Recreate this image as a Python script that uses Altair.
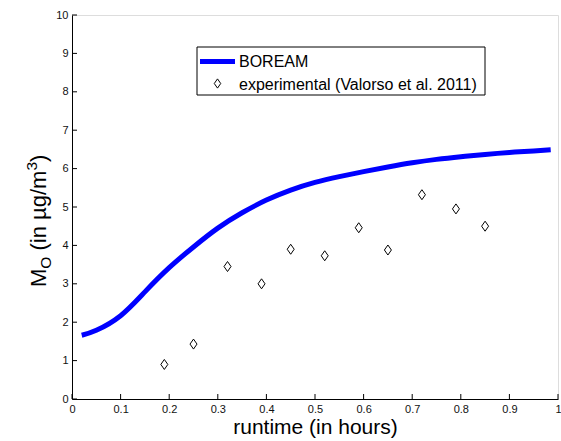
import altair as alt
import pandas as pd

# ---------------- data ----------------
model_t = [0.02, 0.05, 0.10, 0.15, 0.20, 0.25, 0.30, 0.35, 0.40, 0.45, 0.50,
           0.55, 0.60, 0.65, 0.70, 0.75, 0.80, 0.85, 0.90, 0.95, 0.985]
model_mo = [1.66, 1.79, 2.17, 2.79, 3.42, 3.96, 4.45, 4.85, 5.18, 5.44, 5.64,
            5.79, 5.92, 6.04, 6.15, 6.24, 6.31, 6.37, 6.42, 6.46, 6.49]

exp_t = [0.19, 0.25, 0.32, 0.39, 0.45, 0.52, 0.59, 0.65, 0.72, 0.79, 0.85]
exp_mo = [0.90, 1.43, 3.45, 3.00, 3.90, 3.73, 4.46, 3.88, 5.32, 4.95, 4.50]

x_ticks = [0, 0.1, 0.2, 0.3, 0.4, 0.5, 0.6, 0.7, 0.8, 0.9, 1]
y_ticks = [0, 1, 2, 3, 4, 5, 6, 7, 8, 9, 10]

legend_labels = ["BOREAM", "experimental (Valorso et al. 2011)"]
x_title = "runtime (in hours)"
y_title_parts = ["M", "O", "(in \u00b5g/m", "3", ")"]

# ---------------- style ----------------
W, H = 486, 384
FONT = "Liberation Sans"
BLUE = "#0000ff"
DIAMOND = "M0,-1L0.7,0L0,1L-0.7,0Z"

xscale = alt.Scale(domain=[0, 1], nice=False, zero=False)
yscale = alt.Scale(domain=[0, 10], nice=False, zero=False)

x_axis = alt.Axis(values=x_ticks, format="~g", title=x_title, titleFontSize=21,
                  titlePadding=2, labelFlush=False, labelOverlap=False)
y_axis = alt.Axis(values=y_ticks, format="d", title=None,
                  labelFlush=False, labelOverlap=False)

curve_df = pd.DataFrame({"t": model_t, "mo": model_mo})
exp_df = pd.DataFrame({"t": exp_t, "mo": exp_mo})

curve = alt.Chart(curve_df).mark_line(
    color=BLUE, strokeWidth=5, interpolate="natural", strokeCap="butt"
).encode(
    x=alt.X("t:Q", scale=xscale, axis=x_axis),
    y=alt.Y("mo:Q", scale=yscale, axis=y_axis),
)

points = alt.Chart(exp_df).mark_point(
    shape=DIAMOND, size=100, filled=False, color="black", strokeWidth=1, opacity=1
).encode(
    x=alt.X("t:Q", scale=xscale, axis=x_axis),
    y=alt.Y("mo:Q", scale=yscale, axis=y_axis),
)

# inward tick marks (MATLAB style)
xt = alt.Chart(pd.DataFrame({"v": x_ticks})).mark_rule(color="black", strokeWidth=1).encode(
    x=alt.X("v:Q", scale=xscale, axis=x_axis), y=alt.value(H), y2=alt.value(H - 5))
yt = alt.Chart(pd.DataFrame({"v": y_ticks})).mark_rule(color="black", strokeWidth=1).encode(
    y=alt.Y("v:Q", scale=yscale, axis=y_axis), x=alt.value(0), x2=alt.value(5))

# ---------------- legend (manual) ----------------
one = pd.DataFrame({"k": [0]})
leg_box = alt.Chart(one).mark_rect(fill="white", stroke="black", strokeWidth=1).encode(
    x=alt.value(125), x2=alt.value(413), y=alt.value(32), y2=alt.value(80))
leg_line = alt.Chart(one).mark_rule(color=BLUE, strokeWidth=5).encode(
    x=alt.value(128), x2=alt.value(163), y=alt.value(46.5))
leg_pt = alt.Chart(one).mark_point(
    shape=DIAMOND, size=85, filled=False, color="black", strokeWidth=1, opacity=1
).encode(x=alt.value(145.5), y=alt.value(68.5))
leg_txt = alt.Chart(pd.DataFrame({"lab": legend_labels, "yy": [47, 69.5]})).mark_text(
    align="left", baseline="middle", font=FONT, fontSize=16, color="black"
).encode(text="lab:N", x=alt.value(167), y=alt.Y("yy:Q", scale=None))

# ---------------- y title with sub/superscript ----------------
FS = 22
SFS = 15.5
bx = -26
start = 272
w_M = 0.833 * FS
w_O = 0.778 * SFS
w_sp = 0.278 * FS
w_main = (3.91 - 0.278) * FS
w_3 = 0.556 * SFS
pos = [
    (y_title_parts[0], FS, bx, start),
    (y_title_parts[1], SFS, bx + 5, start - w_M),
    (y_title_parts[2], FS, bx, start - w_M - w_O - w_sp),
    (y_title_parts[3], SFS, bx - 9, start - w_M - w_O - w_sp - w_main),
    (y_title_parts[4], FS, bx, start - w_M - w_O - w_sp - w_main - w_3),
]
title_layers = []
for s, fs, xx, yy in pos:
    title_layers.append(
        alt.Chart(pd.DataFrame({"s": [s]})).mark_text(
            angle=270, align="left", baseline="alphabetic", font=FONT,
            fontSize=fs, color="black"
        ).encode(text="s:N", x=alt.value(xx), y=alt.value(yy))
    )

chart = alt.layer(
    curve, points, xt, yt, leg_box, leg_line, leg_pt, leg_txt, *title_layers
).properties(
    width=W, height=H,
    autosize=alt.AutoSizeParams(type="none"),
    padding={"left": 72, "top": 15, "right": 3, "bottom": 42},
).configure_view(stroke=None).configure(background="white").configure_axis(
    tickSize=0, labelPadding=4, labelFontSize=11, labelFont=FONT,
    labelColor="#111111", grid=False, domainColor="black", domainWidth=1,
    titleFont=FONT, titleFontWeight="normal", titleColor="black",
)

chart.save("out.html", embed_options={"renderer": "svg", "actions": False})
